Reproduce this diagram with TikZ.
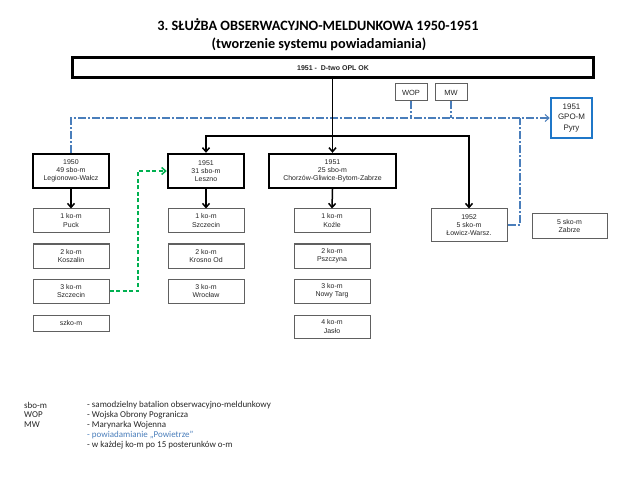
\documentclass[tikz,border=0pt]{standalone}
\usepackage{fontspec}
\setmainfont{Liberation Sans}
\newfontfamily\calib{Carlito}
\usetikzlibrary{arrows.meta,calc}
\frenchspacing
\definecolor{obblue}{HTML}{4A7EBB}
\definecolor{gpoblue}{HTML}{1F77C8}
\definecolor{obgreen}{HTML}{00B050}
\definecolor{thingray}{HTML}{606060}
\tikzset{
  thickbox/.style={draw=black, line width=2.4bp, fill=white, inner sep=0pt, align=center, font=\fontsize{7}{8.3}\selectfont, text=black!85},
  thinbox/.style={draw=thingray, line width=1bp, fill=white, inner sep=0pt, align=center, font=\fontsize{7}{8.3}\selectfont, text=black!85},
  blkarrow/.style={draw=black, line width=1.5bp, -{Straight Barb[length=4bp,width=7bp,line width=1.5bp]}},
  blueline/.style={draw=obblue, line width=1.2bp, dash pattern=on 8bp off 2bp on 2bp off 2bp},
  greenarrow/.style={draw=obgreen, line width=2bp, dash pattern=on 4bp off 2.5bp, -{Straight Barb[length=4bp,width=7bp,line width=1.5bp]}},
  legtxt/.style={anchor=west, inner sep=0pt, font=\calib\fontsize{9}{10}\selectfont, text=black!85},
}
\begin{document}
\begin{tikzpicture}[x=1bp,y=-1bp]
\useasboundingbox (0,0) rectangle (640,480);
% title
\node[font=\calib\bfseries\fontsize{14.3}{16}\selectfont] (t1) at (318,25) {3.\ SŁUŻBA OBSERWACYJNO-MELDUNKOWA 1950-1951};
\node[font=\calib\bfseries\fontsize{14.3}{16}\selectfont] (t2) at (319,44) {(tworzenie systemu powiadamiania)};
% top box
\node[thickbox, minimum width=520bp, minimum height=20bp, line width=3bp, font=\bfseries\fontsize{7}{8.3}\selectfont] (top) at (333,68) {1951 -\ \ D-two OPL OK};
% WOP MW
\node[thinbox, minimum width=32bp, minimum height=17bp, font=\fontsize{7.5}{9}\selectfont] (wop) at (411,92.5) {WOP};
\node[thinbox, minimum width=32bp, minimum height=17bp, font=\fontsize{7.5}{9}\selectfont] (mw) at (451,92.5) {MW};
% GPO-M
\node[draw=gpoblue, line width=2.5bp, fill=white, inner sep=0pt, align=center, minimum width=41bp, minimum height=40bp, font=\fontsize{8}{10.5}\selectfont, text=black!85] (gpo) at (571.5,118) {1951\\GPO-M\\Pyry};
% sbo-m boxes
\node[thickbox, minimum width=76bp, minimum height=34bp] (leg) at (71,171) {1950\\49 sbo-m\\Legionowo-Wałcz};
\node[thickbox, minimum width=76bp, minimum height=34bp] (les) at (206,171) {1951\\31 sbo-m\\Leszno};
\node[thickbox, minimum width=127bp, minimum height=34bp] (cho) at (332.5,171) {1951\\25 sbo-m\\Chorzów-Gliwice-Bytom-Zabrze};
% column 1
\node[thinbox, minimum width=76bp, minimum height=23bp] (a1) at (71,220.5) {1 ko-m\\Puck};
\node[thinbox, minimum width=76bp, minimum height=24bp] (a2) at (71,256) {2 ko-m\\Koszalin};
\node[thinbox, minimum width=76bp, minimum height=24bp] (a3) at (71,291) {3 ko-m\\Szczecin};
\node[thinbox, minimum width=76bp, minimum height=16bp] (a4) at (71,323) {szko-m};
% column 2
\node[thinbox, minimum width=76bp, minimum height=23bp] (b1) at (206,220.5) {1 ko-m\\Szczecin};
\node[thinbox, minimum width=76bp, minimum height=24bp] (b2) at (206,256) {2 ko-m\\Krosno Od};
\node[thinbox, minimum width=76bp, minimum height=24bp] (b3) at (206,291) {3 ko-m\\Wrocław};
% column 3
\node[thinbox, minimum width=76bp, minimum height=23bp] (c1) at (332,220.5) {1 ko-m\\Koźle};
\node[thinbox, minimum width=76bp, minimum height=24bp] (c2) at (332,256) {2 ko-m\\Pszczyna};
\node[thinbox, minimum width=76bp, minimum height=24bp] (c3) at (332,291) {3 ko-m\\Nowy Targ};
\node[thinbox, minimum width=76bp, minimum height=23bp] (c4) at (332,326.5) {4 ko-m\\Jasło};
% 1952 and Zabrze
\node[thinbox, minimum width=76bp, minimum height=32bp] (l52) at (469,225) {1952\\5 sko-m\\Łowicz-Warsz.};
\node[thinbox, minimum width=75bp, minimum height=24bp] (z5) at (569.5,226) {5 sko-m\\Zabrze};
% coordinates
\coordinate (hb) at (332,136);
\coordinate (bj) at (520,118);
\coordinate (gx) at (138,200);
% blue lines (powiadamianie)
\draw[blueline] (wop.south) -- (wop.south |- gpo.west);
\draw[blueline] (mw.south) -- (mw.south |- gpo.west);
\draw[blueline] (l52.east) -| (bj);
\draw[blueline, -{Straight Barb[length=4bp,width=7bp,line width=1bp]}] (leg.north) |- (gpo.west);
% black lines
\draw[blkarrow] (cho.north |- top.south) -- (cho.north);
\draw[blkarrow] (hb) -| (les.north);
\draw[blkarrow] (hb) -| (l52.north);
\draw[blkarrow] (leg.south) -- (a1.north);
\draw[blkarrow] (les.south) -- (b1.north);
\draw[blkarrow] (cho.south) -- (c1.north);
% green
\draw[greenarrow] (a3.east) -| (gx |- les.west) -- (les.west);
% legend
\node[legtxt] (k1) at (24,405) {sbo-m};
\node[legtxt] (k2) at (24,415) {WOP};
\node[legtxt] (k3) at (24,425) {MW};
\node[legtxt] (d1) at (87,405) {- samodzielny batalion obserwacyjno-meldunkowy};
\node[legtxt] (d2) at (87,415) {- Wojska Obrony Pogranicza};
\node[legtxt] (d3) at (87,425) {- Marynarka Wojenna};
\node[legtxt, text=obblue] (d4) at (87,435) {- powiadamianie „Powietrze”};
\node[legtxt] (d5) at (87,445) {- w każdej ko-m po 15 posterunków o-m};
\end{tikzpicture}
\end{document}
